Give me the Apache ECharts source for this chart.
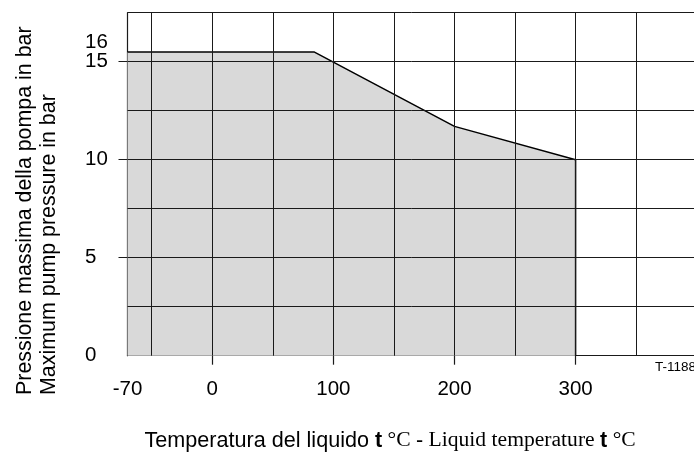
<!DOCTYPE html>
<html>
<head>
<meta charset="utf-8">
<script src="https://cdn.jsdelivr.net/npm/echarts@6/dist/echarts.min.js"></script>
<style>
html,body{margin:0;padding:0;background:#fff;}
#chart{width:694px;height:453px;}
</style>
</head>
<body>
<div id="chart"></div>
<script>
// ---- data ----
const limitTemp = [-70, 84, 200, 300, 300];        // °C
const limitPressure = [15.5, 15.5, 11.7, 10, 0];   // bar
const xLabelValues = [-70, 0, 100, 200, 300];
const xTickValues = [0, 100, 200, 300];
const xGridValues = [-50, 0, 50, 100, 150, 200, 250, 300, 350];
const yLabelValues = [0, 5, 10, 15];
const yExtraLabelValues = [16];
const yTickValues = [5, 10, 15];
const yGridValues = [2.5, 5, 7.5, 10, 12.5, 15, 17.5];
const yTitle = 'Pressione massima della pompa in bar\nMaximum pump pressure in bar';
const drawingCode = 'T-1188';

const SANS = 'Liberation Sans, Arial, Helvetica, sans-serif';
const SERIF = 'Liberation Serif, Times New Roman, serif';
const LINE = '#1a1a1a';

const chart = echarts.init(document.getElementById('chart'), null, {renderer: 'canvas'});

const seriesData = limitTemp.map((t, i) => [t, limitPressure[i]]);

const yLabelStyle = {margin: 42.5, align: 'left', fontFamily: SANS, fontSize: 20.5, color: '#000',
                     hideOverlap: false, showMinLabel: true, showMaxLabel: true};

const option = {
  animation: false,
  backgroundColor: '#fff',
  grid: {left: 127.5, top: 12.7, right: -2.7, bottom: 97.3, containLabel: false, outerBoundsMode: 'none'},
  xAxis: {
    type: 'value', min: -70, max: 400,
    name: '{a|Temperatura del liquido }{b|t}{c| °C }{a|-}{c| Liquid temperature }{b|t}{c| °C}',
    nameLocation: 'middle', nameGap: 74, nameMoveOverlap: false,
    nameTextStyle: {
      padding: [0, 44, 0, 0],
      rich: {
        a: {fontFamily: SANS, fontSize: 21.6, color: '#000'},
        b: {fontFamily: SANS, fontSize: 21.6, fontWeight: 'bold', color: '#000'},
        c: {fontFamily: SERIF, fontSize: 21.6, color: '#000'}
      }
    },
    axisLine: {show: true, onZero: false, lineStyle: {color: LINE, width: 1.2}},
    axisTick: {show: true, customValues: xTickValues, length: 9, lineStyle: {color: LINE, width: 1.2}},
    axisLabel: {customValues: xLabelValues, margin: 23, fontFamily: SANS, fontSize: 20.5, color: '#000',
                hideOverlap: false, showMinLabel: true, showMaxLabel: true},
    splitLine: {show: false}
  },
  yAxis: [{
    type: 'value', min: 0, max: 17.5,
    axisLine: {show: true, onZero: false, lineStyle: {color: LINE, width: 1.2}},
    axisTick: {show: true, customValues: yTickValues, length: 9, lineStyle: {color: LINE, width: 1}},
    axisLabel: Object.assign({customValues: yLabelValues}, yLabelStyle),
    splitLine: {show: false}
  }, {
    type: 'value', min: 0, max: 17.5, position: 'left', offset: 0,
    axisLine: {show: false}, axisTick: {show: false},
    axisLabel: Object.assign({customValues: yExtraLabelValues}, yLabelStyle),
    splitLine: {show: false}
  }],
  series: [{
    type: 'line',
    data: seriesData,
    symbol: 'none',
    lineStyle: {color: '#000', width: 1.5},
    areaStyle: {color: '#d9d9d9', opacity: 1, origin: 0},
    markLine: {
      silent: true, symbol: ['none', 'none'], label: {show: false},
      lineStyle: {color: LINE, width: 1, type: 'solid'},
      data: xGridValues.map(v => ({xAxis: v})).concat(yGridValues.map(v => ({yAxis: v})))
    },
    z: 3
  }],
  graphic: [{
    type: 'text', x: 60.5, y: 395, rotation: Math.PI / 2,
    style: {text: yTitle, fontFamily: SANS, fontSize: 21.4, lineHeight: 23.5, fill: '#000', align: 'left', verticalAlign: 'bottom'}
  }, {
    type: 'text', left: 655, top: 360,
    style: {text: drawingCode, fontFamily: SANS, fontSize: 13.5, fill: '#000'}
  }]
};
chart.setOption(option);
</script>
</body>
</html>
